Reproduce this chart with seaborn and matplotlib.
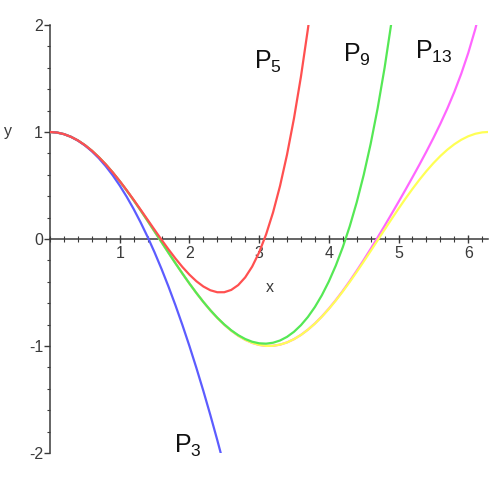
import matplotlib
matplotlib.use("Agg")
import matplotlib.pyplot as plt
from matplotlib.ticker import MultipleLocator, FixedLocator
import seaborn as sns
import pandas as pd

# ---------------- data ----------------
x_cos = [0.0, 0.1, 0.2, 0.3, 0.4, 0.5, 0.6, 0.7, 0.8, 0.9,
         1.0, 1.1, 1.2, 1.3, 1.4, 1.5, 1.6, 1.7, 1.8, 1.9,
         2.0, 2.1, 2.2, 2.3, 2.4, 2.5, 2.6, 2.7, 2.8, 2.9,
         3.0, 3.1, 3.2, 3.3, 3.4, 3.5, 3.6, 3.7, 3.8, 3.9,
         4.0, 4.1, 4.2, 4.3, 4.4, 4.5, 4.6, 4.7, 4.8, 4.9,
         5.0, 5.1, 5.2, 5.3, 5.4, 5.5, 5.6, 5.7, 5.8, 5.9,
         6.0, 6.1, 6.2, 6.2832]
y_cos = [1.0000, 0.9950, 0.9801, 0.9553, 0.9211, 0.8776, 0.8253, 0.7648, 0.6967, 0.6216,
         0.5403, 0.4536, 0.3624, 0.2675, 0.1700, 0.0707, -0.0292, -0.1288, -0.2272, -0.3233,
         -0.4161, -0.5048, -0.5885, -0.6663, -0.7374, -0.8011, -0.8569, -0.9041, -0.9422, -0.9710,
         -0.9900, -0.9991, -0.9983, -0.9875, -0.9668, -0.9365, -0.8968, -0.8481, -0.7910, -0.7259,
         -0.6536, -0.5748, -0.4903, -0.4008, -0.3073, -0.2108, -0.1122, -0.0124, 0.0875, 0.1865,
         0.2837, 0.3780, 0.4685, 0.5544, 0.6347, 0.7087, 0.7756, 0.8347, 0.8855, 0.9275,
         0.9602, 0.9833, 0.9965, 1.0000]

x_p3 = [0.0, 0.1, 0.2, 0.3, 0.4, 0.5, 0.6, 0.7, 0.8, 0.9,
        1.0, 1.1, 1.2, 1.3, 1.4, 1.5, 1.6, 1.7, 1.8, 1.9,
        2.0, 2.1, 2.2, 2.3, 2.4, 2.449]
y_p3 = [1.000, 0.995, 0.980, 0.955, 0.920, 0.875, 0.820, 0.755, 0.680, 0.595,
        0.500, 0.395, 0.280, 0.155, 0.020, -0.125, -0.280, -0.445, -0.620, -0.805,
        -1.000, -1.205, -1.420, -1.645, -1.880, -2.000]

x_p5 = [0.0, 0.1, 0.2, 0.3, 0.4, 0.5, 0.6, 0.7, 0.8, 0.9,
        1.0, 1.1, 1.2, 1.3, 1.4, 1.5, 1.6, 1.7, 1.8, 1.9,
        2.0, 2.1, 2.2, 2.3, 2.4, 2.5, 2.6, 2.7, 2.8, 2.9,
        3.0, 3.1, 3.2, 3.3, 3.4, 3.5, 3.6, 3.7, 3.71]
y_p5 = [1.0000, 0.9950, 0.9801, 0.9553, 0.9211, 0.8776, 0.8254, 0.7650, 0.6971, 0.6223,
        0.5417, 0.4560, 0.3664, 0.2740, 0.1801, 0.0859, -0.0069, -0.0970, -0.1826, -0.2620,
        -0.3333, -0.3947, -0.4439, -0.4790, -0.4976, -0.4974, -0.4759, -0.4307, -0.3589, -0.2580,
        -0.1250, 0.0430, 0.2491, 0.4963, 0.7881, 1.1276, 1.5184, 1.9640, 2.0117]

x_p9 = [0.0, 0.1, 0.2, 0.3, 0.4, 0.5, 0.6, 0.7, 0.8, 0.9,
        1.0, 1.1, 1.2, 1.3, 1.4, 1.5, 1.6, 1.7, 1.8, 1.9,
        2.0, 2.1, 2.2, 2.3, 2.4, 2.5, 2.6, 2.7, 2.8, 2.9,
        3.0, 3.1, 3.2, 3.3, 3.4, 3.5, 3.6, 3.7, 3.8, 3.9,
        4.0, 4.1, 4.2, 4.3, 4.4, 4.5, 4.6, 4.7, 4.8, 4.9]
y_p9 = [1.0000, 0.9950, 0.9801, 0.9553, 0.9211, 0.8776, 0.8253, 0.7648, 0.6967, 0.6216,
        0.5403, 0.4536, 0.3624, 0.2675, 0.1700, 0.0707, -0.0292, -0.1288, -0.2271, -0.3231,
        -0.4159, -0.5044, -0.5878, -0.6652, -0.7357, -0.7986, -0.8532, -0.8987, -0.9345, -0.9601,
        -0.9748, -0.9781, -0.9695, -0.9486, -0.9146, -0.8671, -0.8052, -0.7284, -0.6355, -0.5254,
        -0.3968, -0.2481, -0.0768, 0.1192, 0.3431, 0.5984, 0.8894, 1.2215, 1.6004, 2.0333]

x_p13 = [0.0, 0.1, 0.2, 0.3, 0.4, 0.5, 0.6, 0.7, 0.8, 0.9,
         1.0, 1.1, 1.2, 1.3, 1.4, 1.5, 1.6, 1.7, 1.8, 1.9,
         2.0, 2.1, 2.2, 2.3, 2.4, 2.5, 2.6, 2.7, 2.8, 2.9,
         3.0, 3.1, 3.2, 3.3, 3.4, 3.5, 3.6, 3.7, 3.8, 3.9,
         4.0, 4.1, 4.2, 4.3, 4.4, 4.5, 4.6, 4.7, 4.8, 4.9,
         5.0, 5.1, 5.2, 5.3, 5.4, 5.5, 5.6, 5.7, 5.8, 5.9,
         6.0, 6.1, 6.2]
y_p13 = [1.0000, 0.9950, 0.9801, 0.9553, 0.9211, 0.8776, 0.8253, 0.7648, 0.6967, 0.6216,
         0.5403, 0.4536, 0.3624, 0.2675, 0.1700, 0.0707, -0.0292, -0.1288, -0.2272, -0.3233,
         -0.4161, -0.5048, -0.5885, -0.6663, -0.7374, -0.8011, -0.8569, -0.9041, -0.9422, -0.9709,
         -0.9899, -0.9991, -0.9982, -0.9873, -0.9665, -0.9360, -0.8961, -0.8471, -0.7896, -0.7239,
         -0.6508, -0.5708, -0.4846, -0.3929, -0.2965, -0.1961, -0.0922, 0.0145, 0.1235, 0.2344,
         0.3469, 0.4611, 0.5772, 0.6957, 0.8176, 0.9441, 1.0773, 1.2195, 1.3743, 1.5456,
         1.7387, 1.9601, 2.2172]

x_ticks = [1, 2, 3, 4, 5, 6]
x_tick_labels = ["1", "2", "3", "4", "5", "6"]
y_ticks = [-2, -1, 0, 1, 2]
y_tick_labels = ["-2", "-1", "0", "1", "2"]

curve_labels = ["P$_{3}$", "P$_{5}$", "P$_{9}$", "P$_{13}$"]
label_x = [1.78, 2.92, 4.20, 5.24]
label_y = [-2.0, 1.59, 1.66, 1.68]

# ---------------- style ----------------
sns.set_style("white")
plt.rcParams["font.family"] = ["Liberation Sans", "DejaVu Sans"]
plt.rcParams["mathtext.fontset"] = "custom"
plt.rcParams["mathtext.rm"] = "Liberation Sans"
plt.rcParams["mathtext.it"] = "Liberation Sans"
plt.rcParams["mathtext.bf"] = "Liberation Sans"

axis_col = "#3a3a3a"
fig = plt.figure(figsize=(4.95, 4.80), dpi=100)
ax = fig.add_axes([50 / 495, 1 - 453 / 480, 438 / 495, 428 / 480])

series = [
    (x_p13, y_p13, "#ff66ff", 1),
    (x_cos, y_cos, "#ffff55", 2),
    (x_p9, y_p9, "#55e855", 3),
    (x_p3, y_p3, "#5c5cff", 4),
    (x_p5, y_p5, "#ff5050", 5),
]
for xs, ys, col, z in series:
    df = pd.DataFrame({"x": xs, "y": ys})
    sns.lineplot(data=df, x="x", y="y", color=col, lw=1.6, ax=ax,
                 sort=False, estimator=None, zorder=z)

ax.set_xlim(0, 6.2832)
ax.set_ylim(-2, 2)
ax.set_xlabel("")
ax.set_ylabel("")

for s in ["top", "right"]:
    ax.spines[s].set_visible(False)
ax.spines["bottom"].set_position(("data", 0))
ax.spines["left"].set_position(("data", 0))
for s in ["bottom", "left"]:
    ax.spines[s].set_color(axis_col)
    ax.spines[s].set_linewidth(1.1)
    ax.spines[s].set_zorder(0.5)

ax.xaxis.set_major_locator(FixedLocator(x_ticks))
ax.set_xticklabels(x_tick_labels)
ax.yaxis.set_major_locator(FixedLocator(y_ticks))
ax.set_yticklabels(y_tick_labels)
ax.xaxis.set_minor_locator(MultipleLocator(0.2))
ax.yaxis.set_minor_locator(MultipleLocator(0.2))

ax.tick_params(axis="x", which="major", direction="inout", length=6, width=1,
               color=axis_col, labelcolor=axis_col, labelsize=11.5, pad=2,
               bottom=True)
ax.tick_params(axis="x", which="minor", direction="inout", length=4, width=0.8,
               color=axis_col, bottom=True)
ax.tick_params(axis="y", which="major", direction="out", length=4, width=1,
               color=axis_col, labelcolor=axis_col, labelsize=11.5, pad=1,
               left=True)
ax.tick_params(axis="y", which="minor", direction="out", length=2.5, width=0.8,
               color=axis_col, left=True)

ax.text(3.16, -0.45, "x", ha="center", va="center", fontsize=11.5, color=axis_col)
ax.text(-0.60, 1.0, "y", ha="center", va="center", fontsize=11.5, color=axis_col,
        clip_on=False)

for lab, lx, ly in zip(curve_labels, label_x, label_y):
    ax.text(lx, ly, lab, ha="left", va="baseline", fontsize=18, color="#111111",
            clip_on=False)

fig.savefig("out.png", dpi=100)
